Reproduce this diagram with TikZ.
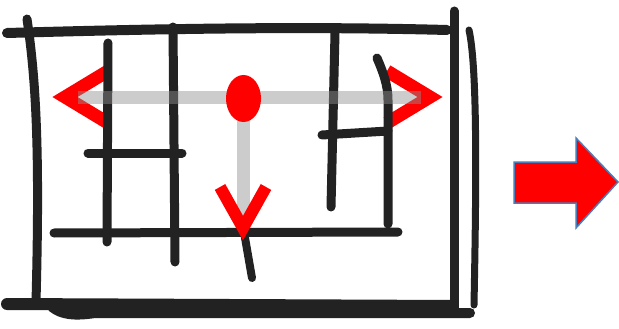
\documentclass[tikz,border=0pt]{standalone}
\begin{document}
\begin{tikzpicture}[x=1pt,y=-1pt,
  ink/.style={draw=inkc,line width=9pt,line cap=round,line join=round},
  guide/.style={draw=guidec,line width=13pt,opacity=0.46},
  chev/.style={draw=red,line width=13pt,line join=miter,line cap=butt},
  blockarrow/.style={fill=red,draw=arrowedge,line width=1.5pt,line join=miter}]
\definecolor{inkc}{HTML}{222222}
\definecolor{guidec}{HTML}{909090}
\definecolor{arrowedge}{HTML}{4A7EBB}
\useasboundingbox (0,0) rectangle (619,329);
% red side chevrons (beneath the ink)
\draw[chev] (108,71) -- (65,97) -- (108,123);
\draw[chev] (387,71) -- (430,97) -- (387,123);
% frame
\draw[ink,line width=10pt] (52,307) .. controls (62,315) and (75,316) .. (95,313) -- (470,313);
\draw[ink,line width=10pt] (7,33) .. controls (150,29) and (300,26) .. (447,30);
\draw[ink] (27,19) .. controls (36,80) and (40,150) .. (36,302);
\draw[ink,line width=12pt] (7,304) -- (453,306);
\draw[ink] (454,11) -- (454,312);
\draw[ink,line width=7pt] (469,30) .. controls (478,70) and (476,200) .. (474,305);
% inner walls
\draw[ink] (108,43) -- (107,242);
\draw[ink] (173,27) -- (175,262);
\draw[ink] (88,153) -- (182,153);
\draw[ink] (54,233) -- (398,232);
\draw[ink] (335,33) -- (331,207);
\draw[ink] (377,58) .. controls (383,72) and (388,85) .. (388,100) -- (388,224);
\draw[ink] (322,135) -- (388,131);
% grey guides
\draw[guide] (78,98) -- (421,98);
\draw[guide] (243.5,98) -- (243.5,215);
% red marker and down chevron
\fill[red] (243.5,98.5) ellipse [x radius=17.5, y radius=23.5];
\draw[ink,line width=8pt] (244,232) -- (252,278);
\draw[chev,line width=12pt] (220,187) -- (243,228) -- (266,187);
% block arrow
\draw[blockarrow] (514,162) -- (576,162) -- (576,138) -- (618,182) -- (576,228) -- (576,203) -- (514,203) -- cycle;
\end{tikzpicture}
\end{document}
